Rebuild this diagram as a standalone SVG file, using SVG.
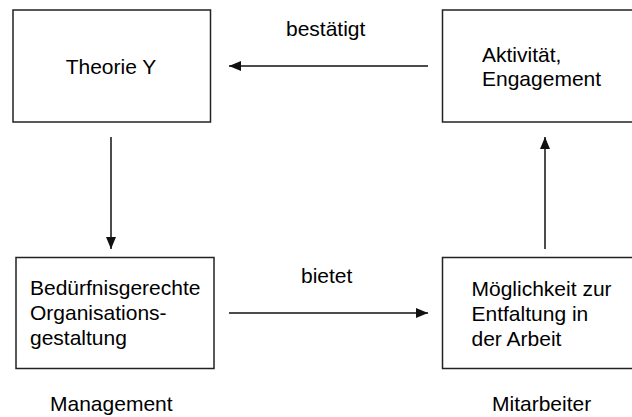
<svg xmlns="http://www.w3.org/2000/svg" width="632" height="417" viewBox="0 0 632 417">
  <style>
    .box { fill: #ffffff; stroke: #222222; stroke-width: 1.5; }
    .lbl { font-family: "Liberation Sans", Arial, sans-serif; font-size: 21px; fill: #000000; }
    .edge { stroke: #111111; stroke-width: 1.5; fill: none; marker-end: url(#arrow); }
  </style>
  <defs>
    <marker id="arrow" viewBox="0 0 12 10" refX="12" refY="5" markerWidth="12" markerHeight="10" markerUnits="userSpaceOnUse" orient="auto">
      <path d="M0,0 L12,5 L0,10 Z" fill="#111111"/>
    </marker>
  </defs>
  <rect width="632" height="417" fill="#ffffff"/>

  <g id="theorie-y">
    <rect class="box" x="13" y="10" width="197.5" height="112"/>
    <text class="lbl" x="111" y="74" text-anchor="middle">Theorie Y</text>
  </g>

  <g id="aktivitaet">
    <rect class="box" x="442.5" y="10" width="200" height="112"/>
    <text class="lbl"><tspan x="482" y="61.5">Aktivität,</tspan><tspan x="482" y="86">Engagement</tspan></text>
  </g>

  <g id="organisationsgestaltung">
    <rect class="box" x="16" y="257.5" width="198" height="111"/>
    <text class="lbl"><tspan x="30" y="295">Bedürfnisgerechte</tspan><tspan x="30" y="320">Organisations-</tspan><tspan x="30" y="344.5">gestaltung</tspan></text>
  </g>

  <g id="entfaltung">
    <rect class="box" x="442.5" y="257.5" width="200" height="111"/>
    <text class="lbl"><tspan x="471.5" y="296">Möglichkeit zur</tspan><tspan x="471.5" y="321">Entfaltung in</tspan><tspan x="471.5" y="346">der Arbeit</tspan></text>
  </g>

  <g id="management">
    <text class="lbl" x="50" y="411">Management</text>
  </g>

  <g id="mitarbeiter">
    <text class="lbl" x="492" y="411">Mitarbeiter</text>
  </g>

  <g id="connectors">
    <line class="edge" x1="428" y1="66" x2="229" y2="66"/>
    <text class="lbl" x="286" y="36">bestätigt</text>
    <line class="edge" x1="229" y1="313" x2="428" y2="313"/>
    <text class="lbl" x="301" y="283">bietet</text>
    <line class="edge" x1="111" y1="137" x2="111" y2="249"/>
    <line class="edge" x1="545" y1="249" x2="545" y2="137"/>
  </g>
</svg>
